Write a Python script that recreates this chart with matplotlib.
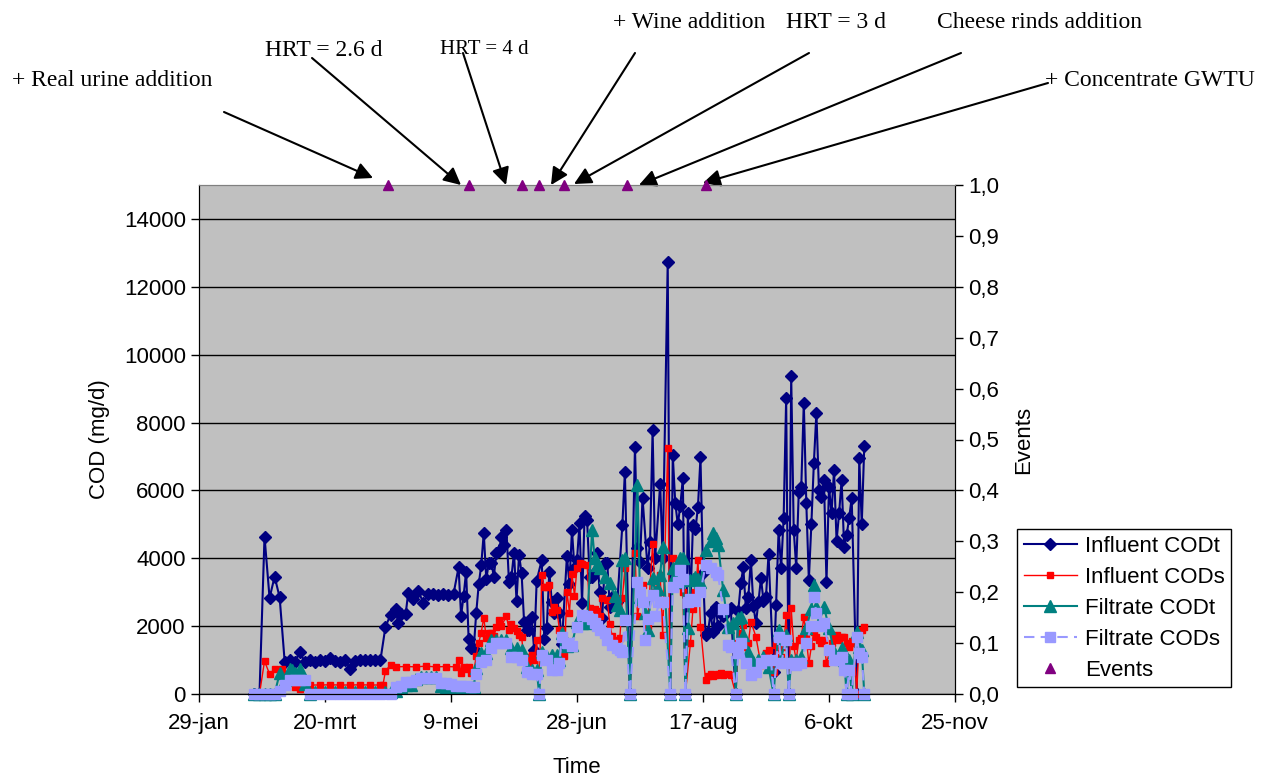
import datetime as dt
import matplotlib
matplotlib.use("Agg")
import matplotlib.pyplot as plt

plt.rcParams["font.family"] = ["Liberation Sans", "DejaVu Sans"]

start = dt.date(2003, 1, 29)

# days after 29-jan, values in mg/d
codt_in_day = [22, 24, 26, 28, 30, 32, 34, 36, 38, 40,
               42, 44, 46, 48, 50, 52, 54, 56, 58, 60,
               62, 64, 66, 68, 70, 72, 74, 76, 78, 79,
               80, 82, 83, 85, 87, 89, 91, 93, 95, 97,
               99, 101, 103, 104, 105, 106, 107, 108, 109, 110,
               111, 112, 113, 114, 115, 116, 117, 118, 119, 120,
               121, 122, 123, 124, 125, 126, 127, 128, 129, 130,
               131, 132, 133, 134, 136, 137, 138, 139, 140, 141,
               142, 143, 144, 146, 147, 148, 149, 150, 151, 152,
               153, 154, 155, 156, 157, 158, 159, 160, 161, 162,
               163, 164, 166, 168, 169, 171, 173, 174, 175, 176,
               178, 179, 180, 181, 183, 184, 186, 187, 188, 189,
               190, 191, 192, 193, 194, 195, 196, 197, 198, 199,
               200, 201, 202, 203, 204, 205, 206, 208, 210, 211,
               213, 214, 215, 216, 217, 218, 219, 220, 221, 222,
               223, 224, 225, 226, 228, 229, 230, 231, 232, 233,
               234, 235, 236, 237, 238, 239, 240, 241, 242, 243,
               244, 245, 246, 247, 248, 249, 250, 251, 252, 253,
               254, 255, 256, 257, 258, 259, 261, 262, 263, 264]
codt_in = [0, 0, 4640, 2830, 3460, 2850, 950, 1000, 950, 1230,
           950, 1000, 950, 1000, 980, 1050, 980, 950, 1000, 740,
           980, 1000, 1000, 1000, 1000, 1000, 1985, 2330, 2500, 2100,
           2350, 2350, 2970, 2800, 3050, 2680, 2950, 2950, 2920, 2950,
           2920, 2950, 3730, 2310, 2890, 3610, 1610, 1350, 1320, 2380,
           3230, 3800, 4750, 3380, 3870, 3870, 3460, 4150, 4200, 4620,
           4390, 4830, 3310, 3460, 4165, 2750, 4100, 3575, 2130, 1890,
           1900, 2260, 1300, 3340, 3950, 1620, 1935, 3600, 2720, 2400,
           2815, 2400, 1480, 4070, 3240, 4830, 3700, 3950, 5030, 2670,
           5250, 5130, 3460, 3460, 3600, 4150, 3000, 2230, 3850, 3870,
           2570, 2870, 2720, 4980, 6550, 0, 7290, 4290, 3900, 5790,
           3700, 4490, 7780, 4000, 6180, 4000, 12740, 0, 7040, 5620,
           5000, 5550, 6360, 0, 5340, 2670, 4980, 4850, 5520, 6970,
           3560, 1740, 1840, 2380, 1840, 2570, 1990, 2290, 2475, 2525,
           0, 2450, 3260, 3730, 2525, 2870, 3950, 2600, 2080, 2720,
           3410, 2750, 2870, 4115, 660, 2620, 4830, 3700, 5180, 8710,
           0, 9370, 4830, 3720, 5960, 6110, 8590, 5620, 3360, 5000,
           6820, 8290, 6010, 5820, 6310, 3290, 6110, 5320, 6600, 4510,
           5320, 6310, 4340, 4690, 5180, 5790, 0, 6950, 5010, 7320]

cods_in_day = [24, 26, 28, 30, 33, 35, 38, 40, 42, 44,
               48, 52, 56, 60, 64, 68, 72, 73, 74, 76,
               78, 82, 86, 90, 94, 98, 102, 103, 104, 105,
               106, 107, 108, 109, 110, 111, 112, 113, 114, 115,
               116, 117, 118, 119, 120, 122, 123, 124, 125, 126,
               127, 128, 129, 130, 131, 132, 133, 134, 135, 136,
               137, 138, 139, 140, 141, 142, 143, 144, 145, 146,
               147, 148, 149, 150, 151, 152, 154, 155, 157, 158,
               159, 160, 162, 163, 164, 166, 167, 168, 169, 171,
               173, 174, 176, 178, 180, 181, 183, 184, 186, 187,
               188, 189, 191, 192, 193, 195, 196, 197, 198, 199,
               201, 202, 203, 204, 205, 206, 207, 208, 210, 211,
               213, 214, 215, 216, 217, 218, 219, 221, 223, 225,
               226, 228, 229, 231, 232, 233, 234, 235, 236, 237,
               238, 239, 240, 241, 242, 243, 244, 245, 246, 247,
               248, 249, 251, 252, 253, 254, 255, 256, 257, 258,
               259, 260, 261, 262, 263, 264]
cods_in = [0, 970, 590, 730, 730, 500, 215, 140, 265, 265,
           265, 270, 265, 265, 270, 265, 265, 270, 680, 855,
           800, 810, 800, 820, 800, 810, 800, 1000, 630, 800,
           750, 800, 630, 630, 1120, 1510, 1810, 2250, 1650, 1810,
           1810, 1700, 1965, 2180, 2000, 2300, 1900, 2050, 1950, 1850,
           1750, 1690, 1000, 1100, 950, 1150, 1000, 1590, 0, 3510,
           3160, 3160, 3200, 2430, 2550, 2490, 1900, 1900, 1120, 3015,
           2400, 3540, 2900, 3700, 3850, 3830, 3800, 2525, 2500, 2450,
           2300, 2820, 2770, 2050, 1700, 1600, 1650, 2820, 3700, 0,
           4150, 2300, 3200, 2000, 4420, 3000, 3510, 1740, 7240, 0,
           4000, 3500, 3200, 3015, 0, 1490, 2500, 3000, 3950, 1985,
           410, 540, 600, 520, 560, 580, 620, 560, 600, 560,
           0, 1500, 1790, 2030, 1390, 1500, 2130, 1690, 855, 1200,
           1300, 660, 1445, 1100, 1390, 2330, 0, 2525, 1400, 1000,
           1590, 1650, 2280, 1650, 900, 1400, 1840, 1690, 1590, 1500,
           1590, 900, 1500, 1690, 1740, 1590, 1690, 1690, 1500, 1390,
           1550, 1500, 0, 1740, 1890, 1985]

codt_f_day = [22, 24, 26, 28, 30, 32, 34, 36, 37, 38,
              40, 42, 44, 46, 50, 54, 58, 62, 66, 70,
              74, 76, 78, 80, 82, 84, 86, 88, 90, 92,
              94, 96, 98, 100, 102, 104, 106, 108, 109, 110,
              112, 114, 116, 118, 120, 122, 124, 126, 128, 130,
              132, 134, 135, 136, 138, 140, 142, 143, 144, 146,
              148, 150, 152, 154, 156, 157, 158, 159, 161, 163,
              165, 166, 167, 168, 169, 171, 174, 175, 176, 177,
              178, 180, 181, 182, 183, 184, 187, 188, 189, 190,
              191, 192, 193, 194, 195, 196, 197, 198, 199, 201,
              203, 204, 205, 206, 208, 210, 212, 213, 214, 215,
              216, 218, 220, 222, 224, 226, 228, 230, 231, 233,
              234, 235, 237, 239, 241, 243, 244, 245, 246, 248,
              250, 252, 254, 255, 256, 257, 258, 259, 261, 262,
              263, 264]
codt_f = [0, 0, 0, 0, 0, 610, 400, 740, 700, 620,
          740, 300, 0, 60, 60, 60, 60, 60, 60, 60,
          60, 60, 100, 200, 265, 265, 450, 510, 510, 510,
          510, 250, 200, 200, 215, 215, 200, 215, 215, 760,
          1200, 1200, 1590, 1590, 1590, 1590, 1350, 1350, 1300, 805,
          700, 700, 0, 1250, 1100, 1150, 1150, 1000, 1790, 1400,
          1450, 2130, 2100, 2100, 4830, 4000, 3800, 3700, 3460, 3260,
          2900, 2620, 2480, 3950, 4000, 0, 6160, 2870, 2800, 2400,
          1890, 3410, 3000, 3100, 3500, 4340, 0, 3700, 3500, 3300,
          4000, 4000, 0, 1935, 3360, 3400, 3460, 3400, 3300, 4240,
          4500, 4740, 4600, 4400, 3065, 1985, 2100, 0, 2230, 2280,
          1750, 1250, 950, 1000, 1100, 800, 0, 1890, 1030, 1740,
          0, 1000, 1000, 1100, 1950, 2500, 3210, 2570, 2100, 2570,
          1950, 1250, 1050, 1350, 1000, 0, 1000, 0, 1840, 1390,
          1300, 0]

cods_f_day = [22, 24, 26, 28, 30, 32, 34, 36, 38, 40,
              42, 44, 48, 52, 56, 60, 64, 68, 72, 76,
              78, 80, 82, 84, 86, 88, 90, 92, 94, 96,
              98, 100, 102, 104, 106, 108, 109, 110, 112, 114,
              116, 118, 120, 122, 124, 126, 128, 130, 132, 134,
              135, 136, 138, 140, 142, 143, 144, 146, 148, 150,
              152, 154, 156, 157, 158, 159, 161, 162, 164, 166,
              167, 168, 169, 171, 174, 175, 176, 177, 178, 180,
              181, 183, 184, 187, 188, 190, 191, 192, 193, 194,
              195, 197, 199, 201, 203, 205, 206, 208, 210, 211,
              213, 214, 215, 217, 219, 221, 223, 225, 227, 228,
              230, 231, 233, 234, 235, 237, 239, 241, 243, 244,
              245, 247, 248, 250, 252, 254, 255, 256, 257, 258,
              259, 261, 262, 263, 264]
cods_f = [0, 0, 0, 0, 0, 100, 265, 410, 420, 410,
          400, 0, 0, 0, 0, 0, 0, 0, 0, 0,
          215, 250, 360, 360, 420, 470, 470, 470, 470, 330,
          325, 300, 250, 250, 250, 220, 220, 600, 950, 1000,
          1350, 1500, 1500, 1500, 1100, 1100, 1000, 660, 600, 600,
          0, 1150, 1000, 700, 700, 900, 1690, 1500, 1400, 1985,
          2330, 2300, 2200, 2100, 2000, 1900, 1800, 1590, 1445, 1350,
          1300, 1250, 2180, 0, 3310, 3000, 2700, 1590, 2200, 2920,
          2300, 2720, 2700, 0, 3160, 3300, 3650, 3400, 0, 2720,
          2800, 2750, 3000, 3800, 3700, 3600, 3500, 2500, 1445, 1390,
          0, 1200, 1500, 900, 560, 650, 900, 1000, 1000, 0,
          1690, 900, 1590, 0, 900, 850, 900, 1500, 2000, 2870,
          2390, 2000, 2100, 1300, 1000, 1000, 1100, 700, 0, 700,
          0, 1690, 1200, 1100, 0]

event_day = [75, 107, 128, 135, 145, 170, 201]
event_val = [1.0, 1.0, 1.0, 1.0, 1.0, 1.0, 1.0]

tick_day = [0, 50, 100, 150, 200, 250, 300]
tick_labels = ["29-jan", "20-mrt", "9-mei", "28-jun", "17-aug", "6-okt", "25-nov"]

# (text, text x, text y, arrow start, arrow tip, size) in image pixels
notes = [
    ("+ Real urine addition", 12, 80, (224, 112), (373, 178), 17),
    ("HRT = 2.6 d", 265, 51, (312, 58), (461, 185), 17),
    ("HRT = 4 d", 440, 49, (463, 53), (506, 185), 15),
    ("+ Wine addition", 613, 22, (635, 53), (551, 185), 17),
    ("HRT = 3 d", 786, 22, (809, 53), (574, 184), 17),
    ("Cheese rinds addition", 937, 22, (961, 53), (639, 185), 17),
    ("+ Concentrate GWTU", 1045, 81, (1048, 83), (703, 183), 17),
]


def dates(days):
    return [start + dt.timedelta(days=d) for d in days]


W, H = 1272, 776


def fp(x, y):
    return (x / W, 1 - y / H)


fig = plt.figure(figsize=(W / 100, H / 100), dpi=100)
ax = fig.add_axes([199 / W, 1 - 694 / H, (955 - 199) / W, (694 - 185) / H])
ax.set_facecolor("#C0C0C0")

l1, = ax.plot(dates(codt_in_day), codt_in, color="#000080", marker="D", ms=6,
              lw=1.5, label="Influent CODt")
l2, = ax.plot(dates(cods_in_day), cods_in, color="#FF0000", marker="s", ms=5,
              lw=1.0, label="Influent CODs")
l3, = ax.plot(dates(codt_f_day), codt_f, color="#008080", marker="^", ms=8.5,
              lw=1.5, label="Filtrate CODt")
l4, = ax.plot(dates(cods_f_day), cods_f, color="#9999FF", marker="s", ms=7.5,
              lw=1.5, ls=(0, (5, 3)), label="Filtrate CODs")
for ln in (l1, l2, l3, l4):
    ln.set_clip_on(False)

ax.set_xlim(start, start + dt.timedelta(days=300))
ax.set_ylim(0, 15000)
ax.set_yticks(range(0, 15000, 2000))
ax.set_xticks(dates(tick_day))
ax.set_xticklabels(tick_labels)
ax.yaxis.grid(True, color="black", lw=1)
ax.set_axisbelow(True)
ax.tick_params(direction="out", length=6, width=1, labelsize=16)
ax.tick_params(axis="x", pad=8)
ax.set_ylabel("COD (mg/d)", fontsize=16, labelpad=10)
ax.set_xlabel("Time", fontsize=16, labelpad=16)
ax.spines["top"].set_color("#808080")

ax2 = ax.twinx()
ax2.set_ylim(0, 1)
ax2.set_yticks([i / 10 for i in range(11)])
ax2.set_yticklabels([f"{i / 10:.1f}".replace(".", ",") for i in range(11)])
ax2.tick_params(direction="out", length=6, width=1, labelsize=16)
ax2.set_ylabel("Events", fontsize=16, labelpad=10)
ax2.spines["top"].set_color("#808080")
l5, = ax2.plot(dates(event_day), event_val, ls="none", marker="^", ms=7,
               color="#800080", clip_on=False, zorder=5, label="Events")

for txt, tx, ty, a0, a1, size in notes:
    fig.text(*fp(tx, ty), txt, family="Liberation Serif", fontsize=size,
             ha="left", va="center")
    ax.annotate("", xy=fp(*a1), xytext=fp(*a0), xycoords="figure fraction",
                textcoords="figure fraction", annotation_clip=False,
                arrowprops=dict(arrowstyle="-|>", color="black", lw=1.5,
                                mutation_scale=26, shrinkA=0, shrinkB=0))

leg = fig.legend(handles=[l1, l2, l3, l4, l5], loc="upper left",
                 bbox_to_anchor=fp(1017, 529), borderaxespad=0, fontsize=16,
                 frameon=True, fancybox=False, edgecolor="black", framealpha=1,
                 handlelength=2.4, borderpad=0.3, labelspacing=0.45,
                 handletextpad=0.35)
leg.get_frame().set_linewidth(1)

fig.savefig("out.png", dpi=100)
